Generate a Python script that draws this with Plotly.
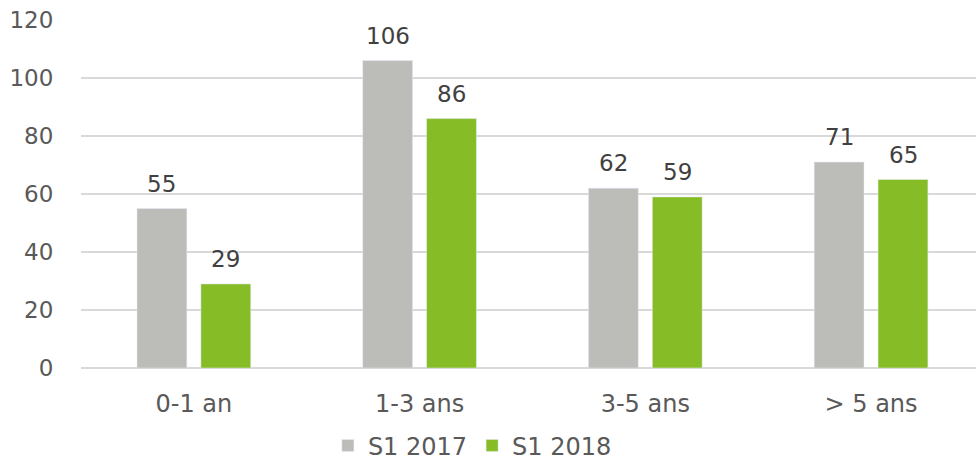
import plotly.graph_objects as go

categories = ["0-1 an", "1-3 ans", "3-5 ans", "> 5 ans"]
s1_2017 = [55, 106, 62, 71]
s1_2018 = [29, 86, 59, 65]

GREY = "#BCBCB8"
GREEN = "#86BC25"
FONT = "Verdana, DejaVu Sans, sans-serif"

fig = go.Figure()

fig.add_trace(go.Bar(x=categories, y=s1_2017, name="S1 2017",
                     marker=dict(color=GREY)))
fig.add_trace(go.Bar(x=categories, y=s1_2018, name="S1 2018",
                     marker=dict(color=GREEN)))

# value labels above the bars
for series, shift in ((s1_2017, -32), (s1_2018, 32)):
    for cat, val in zip(categories, series):
        fig.add_annotation(x=cat, y=val, text=str(val), showarrow=False,
                           xshift=shift, yshift=10, yanchor="bottom",
                           font=dict(family=FONT, size=23, color="#404040"))

fig.update_layout(
    width=976, height=461,
    margin=dict(l=81, r=0, t=20, b=93),
    paper_bgcolor="white", plot_bgcolor="white",
    barmode="group", bargap=0.434, bargroupgap=0.22,
    font=dict(family=FONT, size=23, color="#595959"),
    showlegend=True,
    legend=dict(orientation="h", xref="container", yref="container",
                x=0.484, xanchor="center", y=0.033, yanchor="middle",
                font=dict(size=24, color="#595959")),
)

fig.update_xaxes(range=[-0.5, 3.465], showgrid=False, showline=False,
                 automargin=False, tickfont=dict(size=24),
                 ticks="outside", ticklen=14, tickcolor="rgba(0,0,0,0)")
fig.update_yaxes(range=[0, 120], dtick=20, showgrid=True, gridcolor="#D9D9D9",
                 gridwidth=1.5, zeroline=True, zerolinecolor="#D9D9D9",
                 zerolinewidth=1.5, showline=False, automargin=False,
                 ticks="outside", ticklen=22, tickcolor="rgba(0,0,0,0)")

fig.write_html("out.html", config={"displayModeBar": False},
               post_script="document.body.style.margin='0';")
